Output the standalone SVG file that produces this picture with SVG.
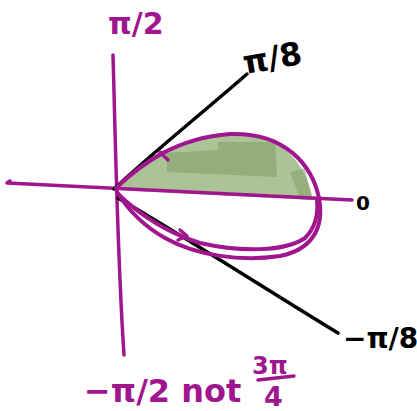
<svg xmlns="http://www.w3.org/2000/svg" width="417" height="411" viewBox="0 0 417 411">
<style>
.ax{fill:none;stroke:#a0168f;stroke-width:3.5;stroke-linecap:round;stroke-linejoin:round}
.lp{fill:none;stroke:#a0168f;stroke-width:4;stroke-linecap:round;stroke-linejoin:round}
.bk{fill:none;stroke:#000;stroke-width:3.5;stroke-linecap:round}
.tm{font-family:"DejaVu Sans",sans-serif;fill:#a0168f;font-weight:bold}
.tb{font-family:"DejaVu Sans",sans-serif;fill:#000;font-weight:bold}
</style>
<rect width="417" height="411" fill="#fff"/>
<!-- shaded region -->
<path d="M117,188 C140,165 170,140 230,134 C280,132 305,160 313,200 L117,190 Z" fill="#a3bd8c" opacity="0.9"/>
<path d="M167,153 L218,150 L218,142 L275,142 L277,177 L167,172 Z" fill="#7f9c63" opacity="0.55"/>
<path d="M290,172 L305,168 L312,200 L300,199 Z" fill="#7f9c63" opacity="0.5"/>
<!-- axes -->
<path class="ax" d="M113,55 C115,120 117,250 124,355"/>
<path class="ax" d="M10,181 L7,183 C60,186 200,192 352,200"/>
<!-- black rays -->
<path class="bk" d="M114,189 C150,155 200,115 247,74"/>
<path class="bk" d="M118,198 C190,240 280,298 338,333"/>
<!-- loop -->
<path class="lp" d="M116,188 C140,165 175,138 230,134 C285,132 312,165 319,198 C325,230 310,250 280,256 C240,262 195,255 165,238 C140,224 125,205 117,192"/>
<path class="lp" d="M118,194 C140,215 165,232 200,243 C240,252 285,252 305,238 C318,225 318,210 317,200"/>
<path class="ax" d="M180,230 L187,236 L178,240"/>
<path class="ax" d="M160,152 L168,160"/>
<!-- labels -->
<text class="tm" x="108" y="34" font-size="30">π/2</text>
<text class="tb" x="245" y="74" font-size="32" transform="rotate(-10 245 74)">π/8</text>
<text class="tb" x="356" y="210" font-size="20">0</text>
<text class="tb" x="343" y="348" font-size="28">−π/8</text>
<text class="tm" x="84" y="402" font-size="32">−π/2 not</text>
<text class="tm" x="252" y="374" font-size="24">3π</text>
<path class="ax" d="M258,380 L294,376"/>
<text class="tm" x="264" y="406" font-size="27">4</text>
</svg>
